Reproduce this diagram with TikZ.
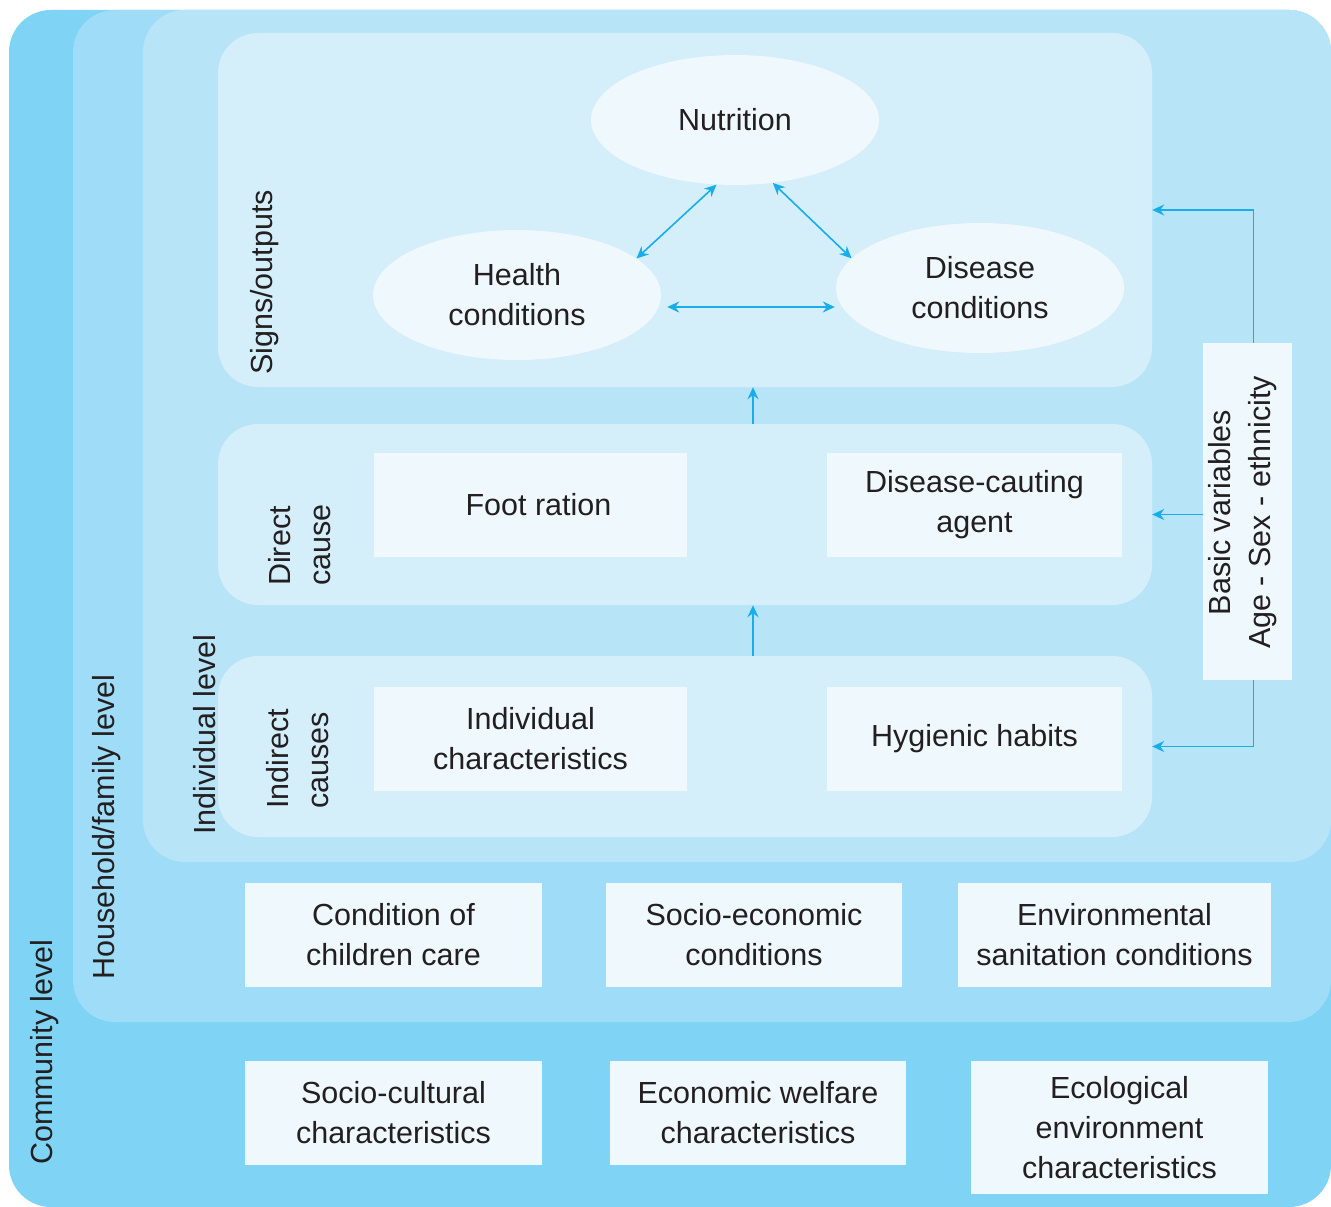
\documentclass[tikz,border=0pt]{standalone}
\usepackage{fontspec}
\setmainfont{Liberation Sans}
\usetikzlibrary{arrows.meta,shapes.geometric}

\definecolor{commcol}{HTML}{7FD3F5}
\definecolor{housecol}{HTML}{9FDCF7}
\definecolor{indivcol}{HTML}{B8E4F8}
\definecolor{panelcol}{HTML}{D4EEFA}
\definecolor{cardcol}{HTML}{EEF8FD}
\definecolor{linkcol}{HTML}{19ADE9}
\definecolor{inkcol}{HTML}{231F20}

\newcommand{\labelfont}{\fontsize{30.5}{40}\selectfont}

\tikzset{
  level/.style={rectangle, rounded corners=42pt, inner sep=0pt, text=inkcol},
  panel/.style={rectangle, rounded corners=40pt, fill=panelcol, inner sep=0pt,
    minimum width=934pt, minimum height=181pt},
  card/.style={rectangle, fill=cardcol, inner sep=0pt, align=center, text=inkcol,
    font=\labelfont},
  bubble/.style={ellipse, fill=cardcol, inner sep=0pt, align=center, text=inkcol,
    minimum width=288pt, minimum height=130pt, font=\labelfont},
  sidelabel/.style={rotate=90, anchor=west, inner sep=0pt, align=left, text=inkcol,
    font=\labelfont},
  link/.style={draw=linkcol, line width=1.6pt,
    -{Stealth[length=12pt,width=11pt]}},
  duallink/.style={link, {Stealth[length=12pt,width=11pt]}-{Stealth[length=12pt,width=11pt]}}
}

\begin{document}
\begin{tikzpicture}[x=1pt, y=-1pt]
\useasboundingbox (0,0) rectangle (1331,1207);

% nested levels
\node[level, fill=commcol, minimum width=1322pt, minimum height=1197pt] (community) at (670,608.5) {};
\node[level, fill=housecol, minimum width=1258pt, minimum height=1012pt] (household) at (702,516) {};
\node[level, fill=indivcol, minimum width=1188pt, minimum height=852pt] (individual) at (737,436) {};

% panels of the individual level
\node[panel, minimum height=354pt] (signs) at (685,210) {};
\node[panel] (direct) at (685,514.5) {};
\node[panel] (indirect) at (685,746.5) {};

% level labels
\node[sidelabel] (lcomm) at (45,1165) {Community level};
\node[sidelabel] (lhouse) at (107,980) {Household/family level};
\node[sidelabel] (lindiv) at (205,835) {Individual level};
\node[sidelabel] (lsigns) at (265,375) {Signs/outputs};
\node[sidelabel] (ldirect) at (300,586) {Direct\\cause};
\node[sidelabel] (lindirect) at (298,809) {Indirect\\causes};

% outputs
\node[bubble] (nut) at (735,120) {Nutrition};
\node[bubble] (health) at (517,295) {Health\\conditions};
\node[bubble] (dis) at (980,288) {Disease\\conditions};

% causes
\node[card, minimum width=313pt, minimum height=104pt] (foot) at (530.5,505) {\hspace*{16pt}Foot ration};
\node[card, minimum width=295pt, minimum height=104pt] (agent) at (974.5,505) {Disease-cauting\\agent};
\node[card, minimum width=313pt, minimum height=104pt] (chars) at (530.5,739) {Individual\\characteristics};
\node[card, minimum width=295pt, minimum height=104pt] (hyg) at (974.5,739) {Hygienic habits};

% household factors
\node[card, minimum width=297pt, minimum height=104pt] (care) at (393.5,935) {Condition of\\children care};
\node[card, minimum width=296pt, minimum height=104pt] (socio) at (754,935) {Socio-economic\\conditions};
\node[card, minimum width=313pt, minimum height=104pt] (env) at (1114.5,935) {Environmental\\sanitation conditions};

% community factors
\node[card, minimum width=297pt, minimum height=104pt] (cult) at (393.5,1113) {Socio-cultural\\characteristics};
\node[card, minimum width=296pt, minimum height=104pt] (econ) at (758,1113) {Economic welfare\\characteristics};
\node[card, minimum width=297pt, minimum height=133pt] (eco) at (1119.5,1127.5) {Ecological\\environment\\characteristics};

% basic variables
\node[card, minimum width=89pt, minimum height=337pt] (bv) at (1247.5,511.5) {};
\node[rotate=90, inner sep=0pt, align=center, text=inkcol, font=\labelfont] (bvtext)
  at (1242.5,512.5) {Basic variables\\Age - Sex - ethnicity};

% links between outputs
\draw[duallink] (nut.254) -- (health.17);
\draw[duallink] (nut.301) -- (dis.167);
\draw[duallink] ([xshift=6pt,yshift=-12pt]health.east) -- ([xshift=-1pt,yshift=-19pt]dis.west);

% causal chain
\draw[link] ([xshift=68pt]direct.north) -- ([xshift=68pt]signs.south);
\draw[link] ([xshift=68pt]indirect.north) -- ([xshift=68pt]direct.south);

% basic variables acting on every stage
\draw[link] ([xshift=6pt]bv.north) |- (signs.east);
\draw[link] (bv.west |- direct.east) -- (direct.east);
\draw[link] ([xshift=6pt]bv.south) |- (indirect.east);
\end{tikzpicture}
\end{document}
